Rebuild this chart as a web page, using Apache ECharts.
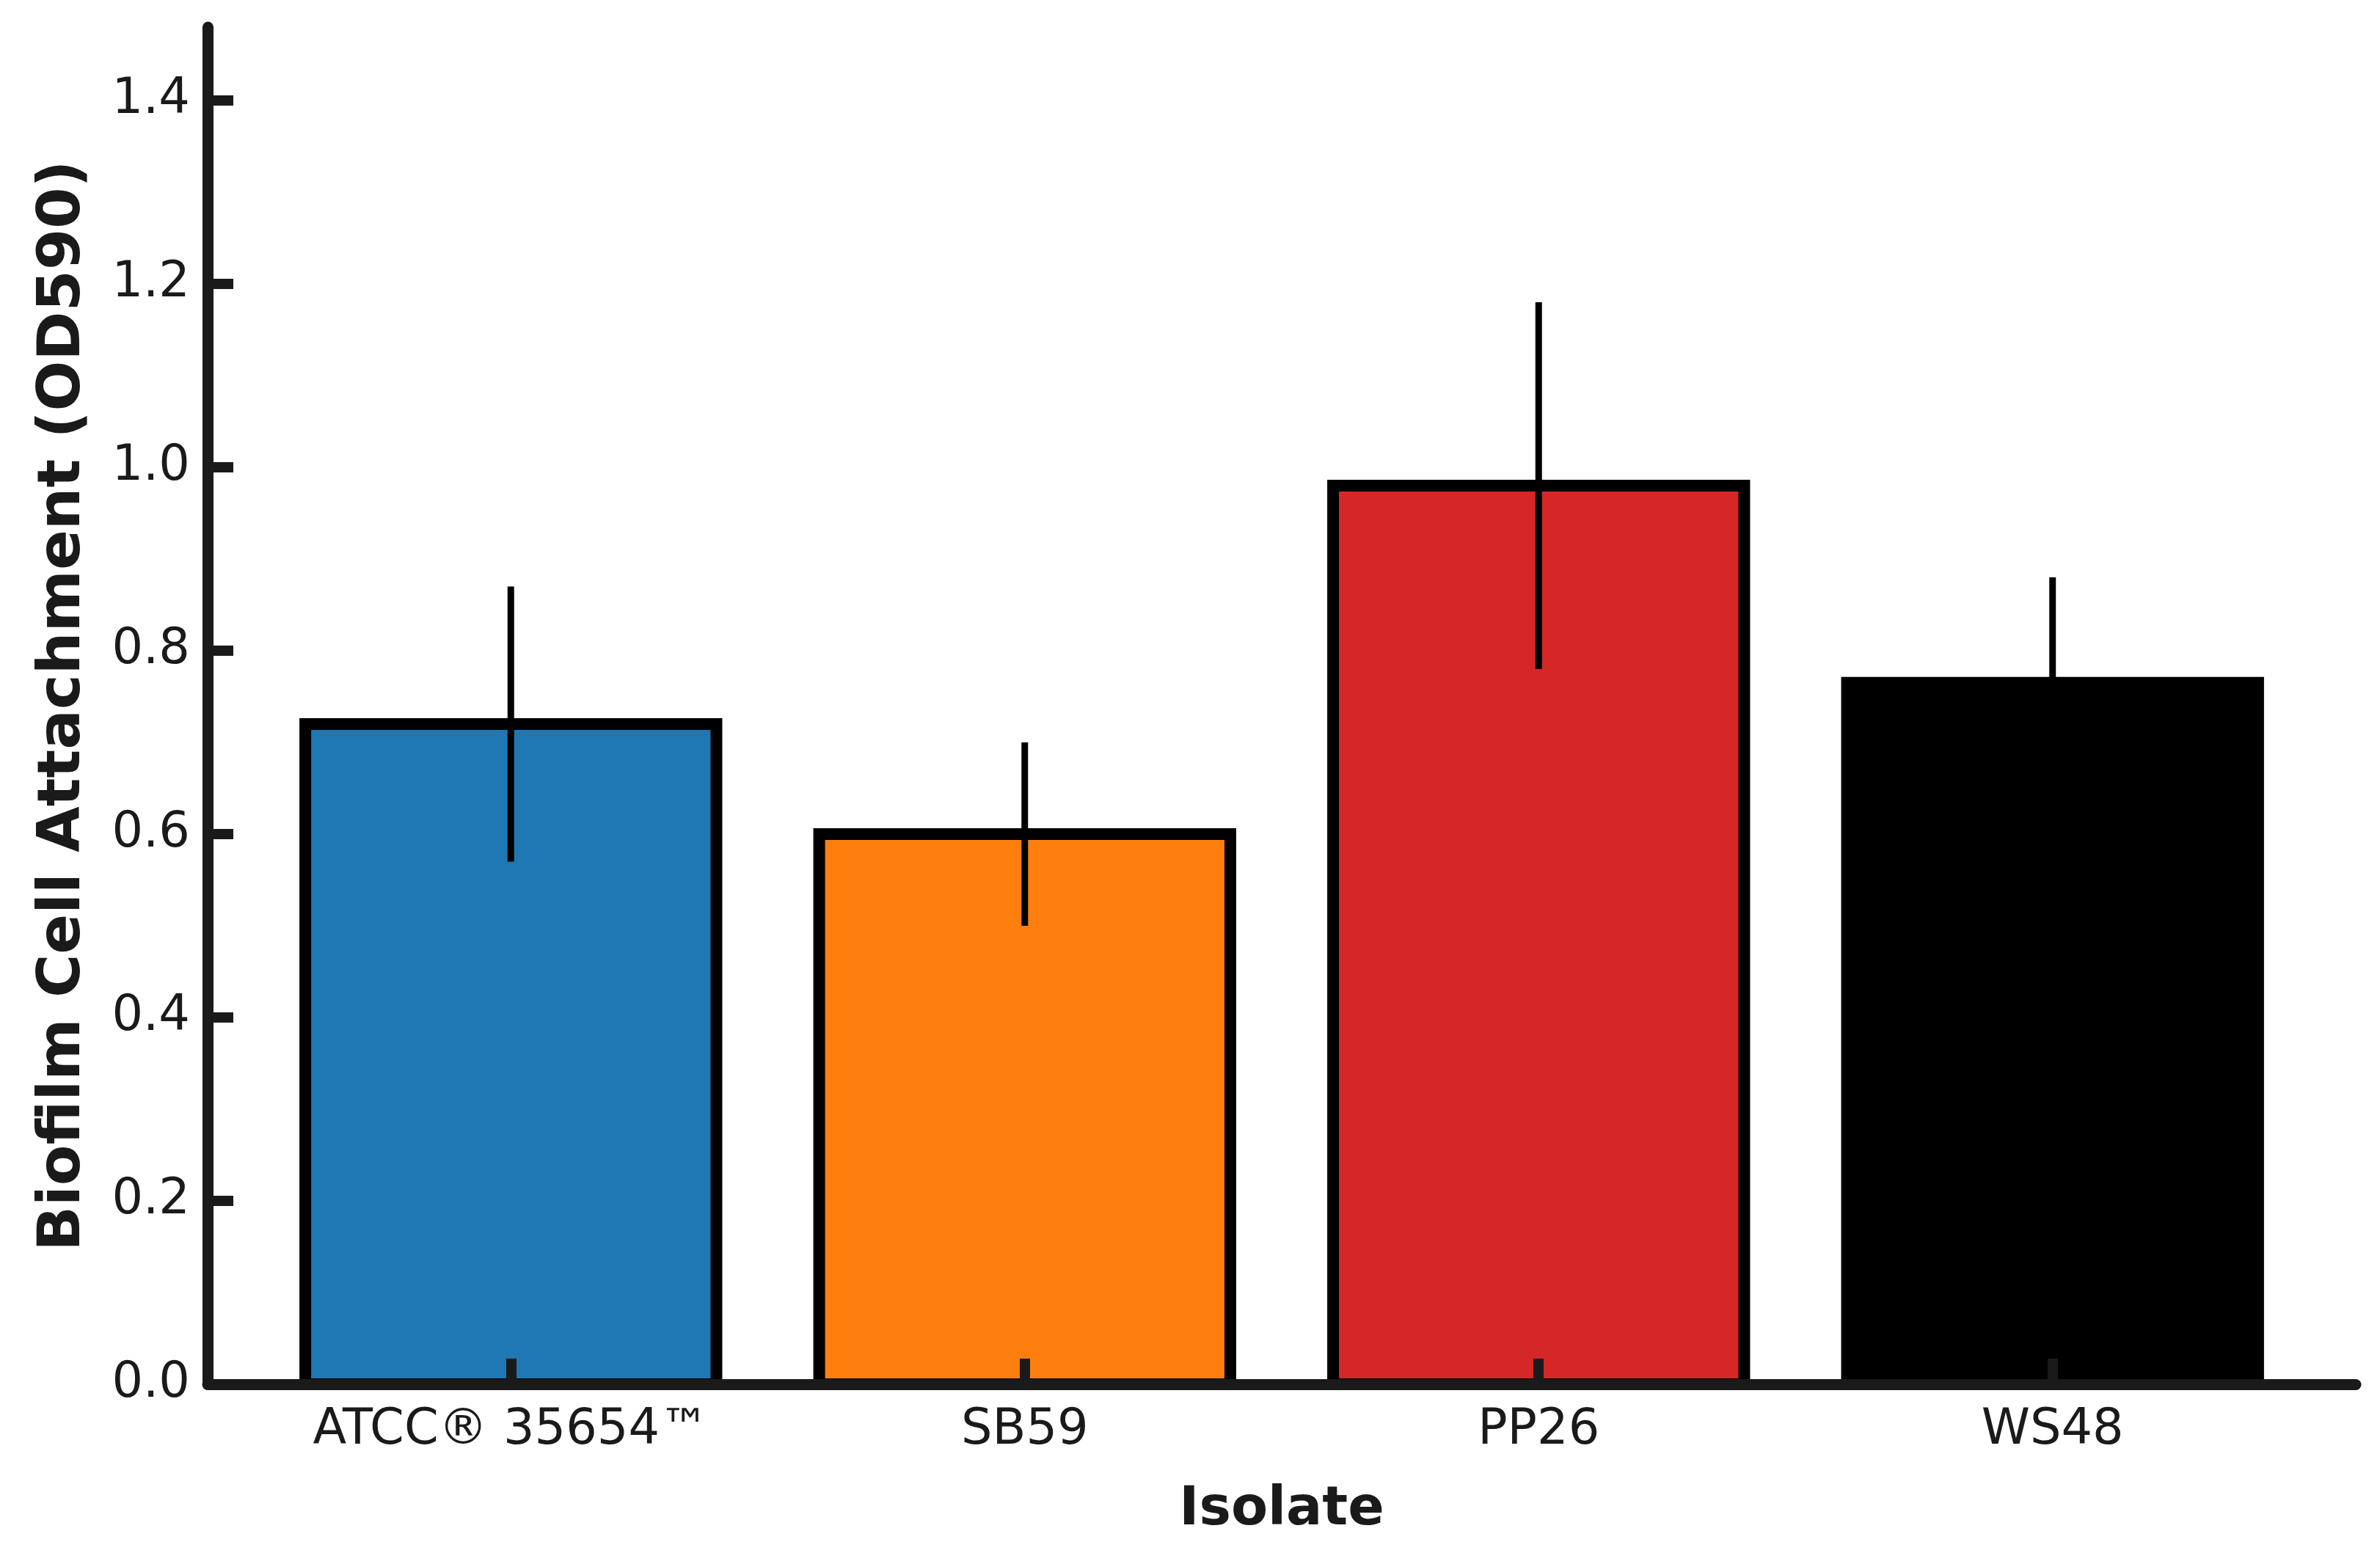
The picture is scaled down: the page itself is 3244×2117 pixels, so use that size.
<!DOCTYPE html>
<html>
<head>
<meta charset="utf-8">
<script src="https://cdn.jsdelivr.net/npm/echarts@6/dist/echarts.min.js"></script>
<style>
	html, body { margin: 0; padding: 0; background: #fff; }
	#chart { width: 3244px; height: 2117px; }
</style>
</head>
<body>
<div id="chart"></div>
<script>
var isolates = ['ATCC® 35654™', 'SB59', 'PP26', 'WS48'];
var means = [0.72, 0.60, 0.98, 0.765];
var errors = [0.15, 0.10, 0.20, 0.115];
var barColors = ['#1f77b4', '#ff7f0e', '#d62728', '#000000'];
var yTicks = [0, 0.2, 0.4, 0.6, 0.8, 1.0, 1.2, 1.4];
var xTicks = [0, 1, 2, 3];

var font = 'DejaVu Sans';
var axisColor = '#1a1a1a';

var barData = [];
var errData = [];
for(var i = 0; i < isolates.length; i++){
	barData.push([i, means[i]]);
	errData.push([i, means[i] - errors[i], means[i] + errors[i]]);
}

var chart = echarts.init(document.getElementById('chart'));

chart.setOption({
	animation: false,
	backgroundColor: '#ffffff',
	grid: {
		left: 283,
		right: 33,
		top: 37,
		bottom: 230
	},
	xAxis: {
		type: 'value',
		min: -0.59,
		max: 3.59,
		z: 8,
		splitLine: { show: false },
		axisLine: { lineStyle: { color: axisColor, width: 15 } },
		axisTick: {
			customValues: xTicks,
			inside: true,
			length: 35,
			lineStyle: { color: axisColor, width: 14 }
		},
		axisLabel: {
			customValues: xTicks,
			margin: 30,
			fontFamily: font,
			fontSize: 67,
			color: axisColor,
			formatter: function(value){
				return isolates[Math.round(value)];
			}
		},
		name: 'Isolate',
		nameLocation: 'middle',
		nameGap: 136,
		nameTextStyle: {
			fontFamily: font,
			fontSize: 73,
			fontWeight: 'bold',
			color: axisColor
		}
	},
	yAxis: {
		type: 'value',
		min: 0,
		max: 1.48,
		z: 8,
		splitLine: { show: false },
		axisLine: { onZero: false, lineStyle: { color: axisColor, width: 15 } },
		axisTick: {
			customValues: yTicks,
			inside: true,
			length: 35,
			lineStyle: { color: axisColor, width: 14 }
		},
		axisLabel: {
			customValues: yTicks,
			margin: 24,
			fontFamily: font,
			fontSize: 67,
			color: axisColor,
			formatter: function(value){
				return value.toFixed(1);
			}
		},
		name: 'Biofilm Cell Attachment (OD590)',
		nameLocation: 'middle',
		nameGap: 156,
		nameTextStyle: {
			fontFamily: font,
			fontSize: 81,
			fontWeight: 'bold',
			color: axisColor
		}
	},
	series: [
		{
			// bars with black edge
			type: 'custom',
			data: barData,
			z: 2,
			renderItem: function(params, api){
				var idx = params.dataIndex;
				var topLeft = api.coord([api.value(0) - 0.4, api.value(1)]);
				var bottomRight = api.coord([api.value(0) + 0.4, 0]);
				return {
					type: 'rect',
					shape: {
						x: topLeft[0],
						y: topLeft[1],
						width: bottomRight[0] - topLeft[0],
						height: bottomRight[1] - topLeft[1]
					},
					style: {
						fill: barColors[idx],
						stroke: '#000000',
						lineWidth: 16
					}
				};
			}
		},
		{
			// error bars, no caps
			type: 'custom',
			data: errData,
			z: 5,
			renderItem: function(params, api){
				var low = api.coord([api.value(0), api.value(1)]);
				var high = api.coord([api.value(0), api.value(2)]);
				return {
					type: 'line',
					shape: { x1: low[0], y1: low[1], x2: high[0], y2: high[1] },
					style: { stroke: '#000000', lineWidth: 9 }
				};
			}
		}
	]
});
</script>
</body>
</html>
